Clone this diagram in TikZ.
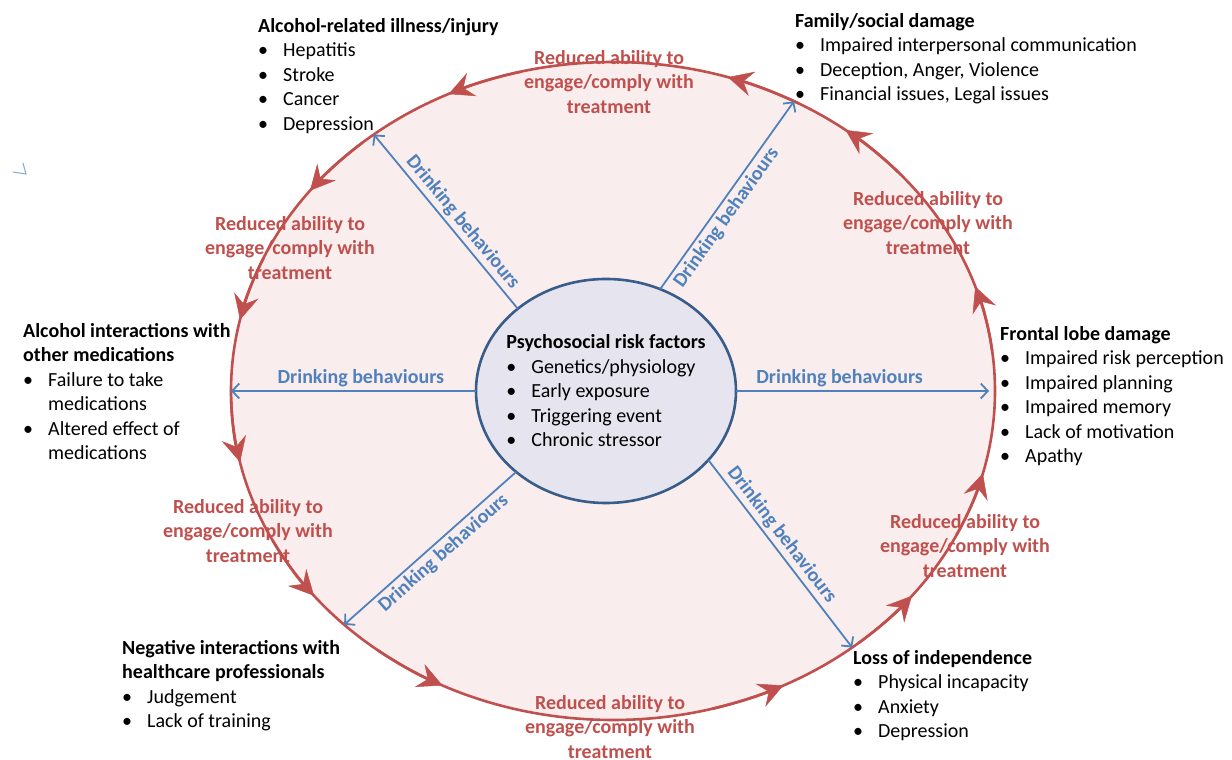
\documentclass[tikz,border=0pt]{standalone}
\usepackage{fontspec}
\setmainfont{Carlito}
\usepackage{tikz}
\usepackage{xcolor}
\usetikzlibrary{positioning, arrows.meta, shapes.geometric, calc}

\definecolor{ringred}{HTML}{C0504D}
\definecolor{drinkblue}{HTML}{4F81BD}
\definecolor{coreedge}{HTML}{385D8A}
\definecolor{corefill}{HTML}{E6E4EE}

\newcommand{\itm}[1]{\makebox[25pt][l]{\textbullet}#1}
\newcommand{\cnt}[1]{\hspace*{25pt}#1}
\newcommand{\reducedtext}{Reduced ability to\\engage/comply with\\treatment}

\begin{document}
\begin{tikzpicture}[
        x=1pt, y=1pt,
        % Styles
        ringnode/.style={ellipse, draw=ringred, line width=2.6pt, fill=ringred!10,
                minimum width=764pt, minimum height=658pt, inner sep=0pt, outer sep=0pt},
        corenode/.style={ellipse, draw=coreedge, line width=2.6pt, fill=corefill,
                minimum width=260pt, minimum height=224pt, inner sep=0pt, outer sep=0pt},
        bodytext/.style={font=\fontsize{20}{24.5}\selectfont, align=left, inner sep=0pt},
        headbox/.style={bodytext, anchor=north west},
        ringlab/.style={font=\fontsize{20}{24.5}\selectfont\bfseries, text=ringred,
                align=center, inner sep=0pt},
        drinklab/.style={font=\fontsize{20}{24.5}\selectfont\bfseries, text=drinkblue,
                inner sep=3pt, sloped},
        drink/.style={-{Straight Barb[length=7pt, width=15pt, line width=1.8pt]},
                draw=drinkblue, line width=1.8pt},
        ringarrow/.style={-{Stealth[length=25pt, width=25pt, inset=9pt, line width=0.5pt]},
                draw=ringred, line width=2.6pt},
    ]
        \useasboundingbox (0,0) rectangle (1232,760);

        % === OUTER CYCLE ===
        \node[ringnode] (ring) at (613,369) {};
        \foreach \a in {16,50,70,113,140,165,190,216,241,294,319,343}
            \draw[ringarrow] ($(ring.center)+(\a-9:382 and 329)$)
                arc[start angle=\a-9, end angle=\a+2.5, x radius=382, y radius=329];

        % === CORE ===
        \node[corenode] (core) at (606,369) {};
        \node[bodytext] (coretext) at (core.center) {\textbf{Psychosocial risk factors}\\
            \itm{Genetics/physiology}\\ \itm{Early exposure}\\
            \itm{Triggering event}\\ \itm{Chronic stressor}};

        % === DRINKING BEHAVIOURS ===
        \draw[drink] (core.180) -- (ring.180) node[drinklab, pos=0.47, above] {Drinking behaviours};
        \draw[drink, shorten >=6pt] (core.0) -- (ring.0) node[drinklab, pos=0.4, above] {Drinking behaviours};
        \draw[drink] (core.137) -- (ring.133) node[drinklab, pos=0.45, above] {Drinking behaviours};
        \draw[drink] (core.62) -- (ring.58) node[drinklab, pos=0.42, below] {Drinking behaviours};
        \draw[drink] (core.222) -- (ring.221) node[drinklab, pos=0.47, below] {Drinking behaviours};
        \draw[drink] (core.326) -- (ring.313) node[drinklab, pos=0.44, above] {Drinking behaviours};

        % === RING LABELS ===
        \foreach \px/\py/\nm in {609/678/rtop, 928/537/rupright, 290/512/rupleft,
                248/229/rlowleft, 965/214/rlowright, 610/33/rbottom}
            \node[ringlab] (\nm) at (\px,\py) {\reducedtext};

        % === CONSEQUENCES ===
        \node[headbox] (illness) at (258,742) {\textbf{Alcohol-related illness/injury}\\
            \itm{Hepatitis}\\ \itm{Stroke}\\ \itm{Cancer}\\ \itm{Depression}};
        \node[headbox] (family) at (795,747) {\textbf{Family/social damage}\\
            \itm{Impaired interpersonal communication}\\
            \itm{Deception, Anger, Violence}\\
            \itm{Financial issues, Legal issues}};
        \node[headbox] (frontal) at (1000,434) {\textbf{Frontal lobe damage}\\
            \itm{Impaired risk perception}\\ \itm{Impaired planning}\\
            \itm{Impaired memory}\\ \itm{Lack of motivation}\\ \itm{Apathy}};
        \node[headbox] (independence) at (853,110) {\textbf{Loss of independence}\\
            \itm{Physical incapacity}\\ \itm{Anxiety}\\ \itm{Depression}};
        \node[headbox] (professionals) at (122,120) {\textbf{Negative interactions with}\\
            \textbf{healthcare professionals}\\
            \itm{Judgement}\\ \itm{Lack of training}};
        \node[headbox] (medications) at (23,437) {\textbf{Alcohol interactions with}\\
            \textbf{other medications}\\
            \itm{Failure to take}\\ \cnt{medications}\\
            \itm{Altered effect of}\\ \cnt{medications}};

        % stray pen mark
        \draw[drinkblue!70, line width=1pt] (23,597) -- (26,586) -- (13,588);

    \end{tikzpicture}
\end{document}
